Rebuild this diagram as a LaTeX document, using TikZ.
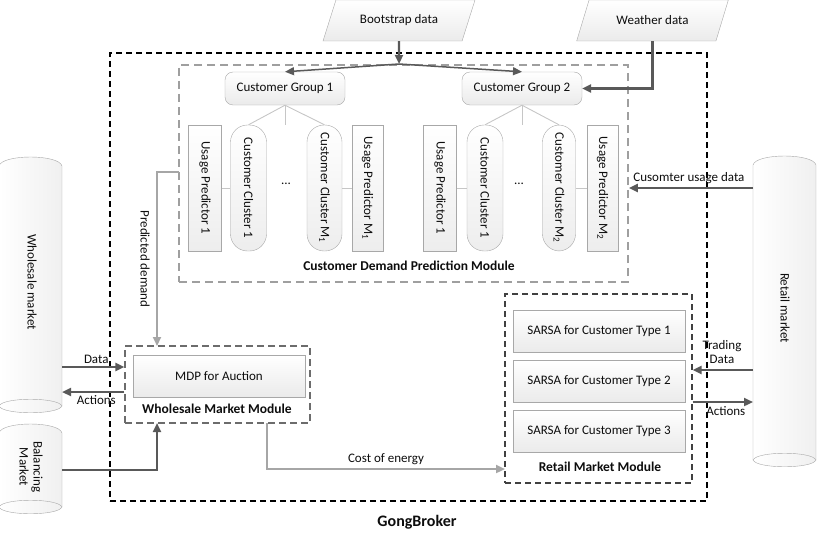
\documentclass[tikz,border=0pt]{standalone}
\usepackage{fontspec}
\setmainfont{Carlito}
\usetikzlibrary{arrows.meta,shapes.geometric,calc}
\definecolor{dk}{HTML}{595959}
\definecolor{lt}{HTML}{A6A6A6}
\definecolor{bd}{HTML}{A8A8A8}
\definecolor{tx}{HTML}{0D0D0D}
\newcommand{\mycyl}[4]{%
  \path[draw=bd, left color=white, right color=gray!12]
    (#1,#3+9) .. controls (#1+3,#3-3) and (#2-3,#3-3) .. (#2,#3+9)
    -- (#2,#4) .. controls (#2-4,#4+9) and (#1+4,#4+9) .. (#1,#4) -- cycle;
  \draw[bd] (#1,#4) .. controls (#1+4,#4-9) and (#2-4,#4-9) .. (#2,#4);}
\begin{document}
\begin{tikzpicture}[x=1pt,y=-1pt, font=\fontsize{13}{15}\selectfont, text=tx,
  boxs/.style={draw=bd, top color=white, bottom color=gray!16},
  grp/.style={boxs, rounded corners=8pt, minimum width=120pt, minimum height=33pt},
  vpred/.style={draw=bd, top color=white, bottom color=gray!14, rotate=-90, minimum width=126pt, minimum height=33pt, inner sep=1pt},
  vclus/.style={vpred, rounded corners=17pt, minimum height=36pt},
  sbox/.style={boxs, minimum width=172pt, minimum height=42pt},
  datab/.style={boxs, trapezium, trapezium left angle=64, trapezium right angle=116, trapezium stretches=true, minimum width=152pt, minimum height=41pt},
  darr/.style={draw=dk, line width=2.2pt, -{Triangle[length=9pt,width=8pt]}},
  larr/.style={draw=lt, line width=2.2pt, -{Triangle[length=9pt,width=8pt]}},
  tline/.style={draw=gray!45, line width=0.9pt},
  lbl/.style={font=\bfseries\fontsize{13.5}{15}\selectfont},
]
\useasboundingbox (0,0) rectangle (818,535);

% cylinders
\mycyl{-1}{62}{157}{406}
\mycyl{-1}{62}{424}{507}
\mycyl{753}{816}{156}{460}
\node[rotate=-90] (wmt) at (32,282) {Wholesale market};
\node[rotate=-90, align=center, font=\fontsize{13}{14}\selectfont] (bmt) at (31,467) {Balancing\\Market};
\node[rotate=-90] (rmt) at (785,308) {Retail market};

% containers
\node[draw=black, line width=1.4pt, dash pattern=on 6pt off 4pt, minimum width=597pt, minimum height=448pt, inner sep=0pt] (gb) at (408.5,277) {};
\node[draw=gray!75, line width=1.6pt, dash pattern=on 8pt off 5pt, minimum width=449pt, minimum height=217pt, inner sep=0pt] (cdpm) at (403.5,173.5) {};
\node[draw=gray!85!black, line width=1.4pt, dash pattern=on 7pt off 4pt, minimum width=185pt, minimum height=77pt, inner sep=0pt] (wmm) at (217.5,384.5) {};
\node[draw=black!75, line width=1.1pt, dash pattern=on 6pt off 4pt, minimum width=187pt, minimum height=189pt, inner sep=0pt] (rmm) at (598.5,388.5) {};

\node[font=\bfseries\fontsize{16}{18}\selectfont] (gbl) at (417,522) {GongBroker};
\node[lbl] (cdpml) at (409,266) {Customer Demand Prediction Module};
\node[lbl] (wmml) at (217,409) {Wholesale Market Module};
\node[lbl] (rmml) at (600,467) {Retail Market Module};

% data inputs
\node[datab] (boot) at (399,20.5) {Bootstrap data};
\node[datab] (wx) at (652.5,20.5) {Weather data};

% customer groups
\node[grp] (g1) at (285,88.5) {Customer Group 1};
\node[grp] (g2) at (522,88.5) {Customer Group 2};

\node[vpred] (u11) at (205,188) {Usage Predictor 1};
\node[vclus] (c11) at (248.5,188) {Customer Cluster 1};
\node (d1) at (286,184) {...};
\node[vclus, minimum height=35pt] (cm1) at (324.5,188) {Customer Cluster M\textsubscript{1}};
\node[vpred, minimum height=31pt] (um1) at (367.5,188) {Usage Predictor M\textsubscript{1}};

\node[vpred] (u21) at (440,188) {Usage Predictor 1};
\node[vclus] (c21) at (485,188) {Customer Cluster 1};
\node (d2) at (519,184) {...};
\node[vclus, minimum height=33pt] (cm2) at (559,188) {Customer Cluster M\textsubscript{2}};
\node[vpred, minimum height=31pt] (um2) at (602.5,188) {Usage Predictor M\textsubscript{2}};

\coordinate (gd1) at (285,125);
\coordinate (gd2) at (522,125);
\draw[tline] (g1.south) -- (c11.west);
\draw[tline] (g1.south) -- (cm1.west);
\draw[tline] (g1.south) -- (gd1);
\draw[tline] (g2.south) -- (c21.west);
\draw[tline] (g2.south) -- (cm2.west);
\draw[tline] (g2.south) -- (gd2);
\draw[tline] (u11.north) -- (c11.south);
\draw[tline] (cm1.north) -- (um1.south);
\draw[tline] (u21.north) -- (c21.south);
\draw[tline] (cm2.north) -- (um2.south);

% modules
\node[sbox] (mdp) at (219,376) {MDP for Auction};
\node[sbox] (s1) at (599,331) {SARSA for Customer Type 1};
\node[sbox] (s2) at (599,381) {SARSA for Customer Type 2};
\node[sbox] (s3) at (599,431) {SARSA for Customer Type 3};

% bootstrap / weather arrows
\coordinate (bj) at (399,64);
\draw[darr] (boot.south) -- (bj);
\draw[darr, line width=1.5pt] (bj) -- (g1.north);
\draw[darr, line width=1.5pt] (bj) -- (g2.north);
\draw[darr] (wx.south) |- (g2.east);

% customer usage data
\coordinate (rmU) at (753,188);
\draw[darr] (rmU) -- (rmU -| cdpm.east) node[midway, above, xshift=-2pt] {Cusomter usage data};

% predicted demand
\coordinate (cdl) at (179,172);
\coordinate (wmt0) at (157,346);
\draw[larr] (cdl) -| (wmt0);
\node[rotate=-90] (pdl) at (145,259) {Predicted demand};

% wholesale market links
\coordinate (wmD) at (62,367);
\coordinate (wmA) at (62,392);
\draw[darr] (wmD) -- (wmD -| wmm.west) node[pos=.55, above, yshift=-1pt] {Data};
\draw[darr] (wmA -| wmm.west) -- (wmA) node[pos=.45, below, yshift=1pt] {Actions};
\coordinate (bmO) at (62,470);
\coordinate (wmb) at (157,423);
\draw[darr] (bmO) -| (wmb);

% cost of energy
\coordinate (ce1) at (267,423);
\coordinate (ce2) at (505,469);
\draw[larr] (ce1) |- (ce2) node[pos=.75, above] {Cost of energy};

% retail market links
\coordinate (rmT) at (753,370);
\coordinate (rmA) at (753,402);
\draw[darr] (rmT) -- (rmT -| rmm.east);
\node[align=center, font=\fontsize{13}{14}\selectfont] (tdl) at (722,352) {Trading\\Data};
\draw[darr] (rmA -| rmm.east) -- (rmA) node[midway, below, xshift=3pt] {Actions};
\end{tikzpicture}
\end{document}
